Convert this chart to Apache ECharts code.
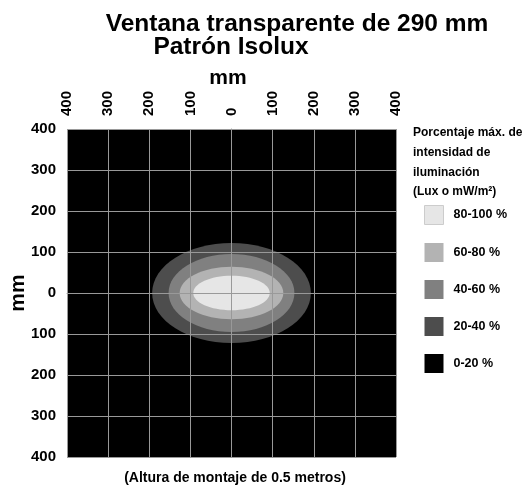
<!DOCTYPE html>
<html>
<head>
<meta charset="utf-8">
<script src="https://cdn.jsdelivr.net/npm/echarts@6/dist/echarts.min.js"></script>
<style>
  html, body { margin: 0; padding: 0; background: #fff; }
  #chart { width: 532px; height: 489px; }
</style>
</head>
<body>
<div id="chart"></div>
<script>
// ---- data ----
const tickValues = [-400, -300, -200, -100, 0, 100, 200, 300, 400];
const tickLabels = ['400', '300', '200', '100', '0', '100', '200', '300', '400'];
const levels = ['80-100 %', '60-80 %', '40-60 %', '20-40 %', '0-20 %'];
// half extents (mm) of each isolux contour, for levels 80-100, 60-80, 40-60, 20-40
const halfWidthMm = [93, 126, 153, 193];
const halfHeightMm = [42, 64, 95, 122];

// ---- styles ----
const levelColors = ['#e6e6e6', '#b3b3b3', '#808080', '#4d4d4d', '#000000'];
const FONT = 'Liberation Sans, Arial, Helvetica, sans-serif';

const chart = echarts.init(document.getElementById('chart'), null, { renderer: 'canvas' });

function labelFor(v) {
  const i = tickValues.indexOf(v);
  return i >= 0 ? tickLabels[i] : '';
}

function ellipseRender(params, api) {
  const c = api.coord([0, 0]);
  const p = api.coord([api.value(0), api.value(1)]);
  return {
    type: 'ellipse',
    shape: { cx: c[0], cy: c[1], rx: Math.abs(p[0] - c[0]), ry: Math.abs(c[1] - p[1]) },
    style: { fill: api.visual('color') }
  };
}

function backgroundRender(params, api) {
  const p0 = api.coord([api.value(0), api.value(1)]);
  const p1 = api.coord([api.value(2), api.value(3)]);
  return {
    type: 'rect',
    shape: { x: Math.min(p0[0], p1[0]), y: Math.min(p0[1], p1[1]),
             width: Math.abs(p1[0] - p0[0]), height: Math.abs(p1[1] - p0[1]) },
    style: { fill: api.visual('color') }
  };
}

const series = [];
// 0-20 % : whole field
series.push({
  name: levels[4],
  type: 'custom',
  renderItem: backgroundRender,
  itemStyle: { color: levelColors[4] },
  data: [[tickValues[0], tickValues[tickValues.length - 1], tickValues[tickValues.length - 1], tickValues[0]]],
  z: 1,
  silent: true
});
// contours from outer to inner
for (let k = 3; k >= 0; k--) {
  series.push({
    name: levels[k],
    type: 'custom',
    renderItem: ellipseRender,
    itemStyle: { color: levelColors[k] },
    data: [[halfWidthMm[k], halfHeightMm[k]]],
    z: 1,
    silent: true
  });
}

const option = {
  animation: false,
  backgroundColor: '#ffffff',
  textStyle: { fontFamily: FONT },
  title: [
    { text: 'Ventana transparente de 290 mm', left: 297, top: 12, textAlign: 'center', padding: 0,
      textStyle: { fontSize: 24.5, fontWeight: 'bold', color: '#000', fontFamily: FONT } },
    { text: 'Patrón Isolux', left: 231, top: 35, textAlign: 'center', padding: 0,
      textStyle: { fontSize: 24.5, fontWeight: 'bold', color: '#000', fontFamily: FONT } },
    { text: 'Porcentaje máx. de\nintensidad de\niluminación\n(Lux o mW/m²)', left: 413, top: 123, padding: 0,
      textStyle: { fontSize: 12, fontWeight: 'bold', color: '#000', lineHeight: 19.7, fontFamily: FONT } },
    { text: '(Altura de montaje de 0.5 metros)', left: 235, top: 471, textAlign: 'center', padding: 0,
      textStyle: { fontSize: 14, fontWeight: 'bold', color: '#000', fontFamily: FONT } }
  ],
  legend: {
    orient: 'vertical',
    left: 419,
    top: 200,
    itemWidth: 19,
    itemHeight: 19,
    itemGap: 18,
    icon: 'rect',
    selectedMode: false,
    textStyle: { fontSize: 12.5, fontWeight: 'bold', color: '#000', padding: [0, 0, 0, 5], fontFamily: FONT },
    data: levels.map((n, i) => i === 0
      ? { name: n, itemStyle: { borderColor: '#cccccc', borderWidth: 1 } }
      : { name: n })
  },
  grid: { left: 67, top: 129, width: 329, height: 328, containLabel: false, outerBoundsMode: 'none' },
  xAxis: {
    type: 'value',
    position: 'top',
    min: tickValues[0],
    max: tickValues[tickValues.length - 1],
    interval: 100,
    z: 5,
    name: 'mm',
    nameLocation: 'middle',
    nameMoveOverlap: false,
    nameGap: 40,
    nameTextStyle: { fontSize: 21, fontWeight: 'bold', color: '#000', fontFamily: FONT, padding: [0, 7, 0, 0] },
    axisLine: { show: true, lineStyle: { color: '#999999', width: 1 } },
    axisTick: { show: false },
    axisLabel: { rotate: 90, margin: 13, fontSize: 15, fontWeight: 'bold', color: '#000',
      fontFamily: FONT, formatter: labelFor },
    splitLine: { show: true, lineStyle: { color: '#999999', width: 1 } }
  },
  yAxis: {
    type: 'value',
    min: tickValues[0],
    max: tickValues[tickValues.length - 1],
    interval: 100,
    z: 5,
    name: 'mm',
    nameLocation: 'middle',
    nameMoveOverlap: false,
    nameGap: 38,
    nameTextStyle: { fontSize: 21, fontWeight: 'bold', color: '#000', fontFamily: FONT },
    axisLine: { show: true, lineStyle: { color: '#999999', width: 1 } },
    axisTick: { show: false },
    axisLabel: { margin: 11, fontSize: 15, fontWeight: 'bold', color: '#000',
      fontFamily: FONT, formatter: labelFor },
    splitLine: { show: true, lineStyle: { color: '#999999', width: 1 } }
  },
  series: series
};

chart.setOption(option);
</script>
</body>
</html>
